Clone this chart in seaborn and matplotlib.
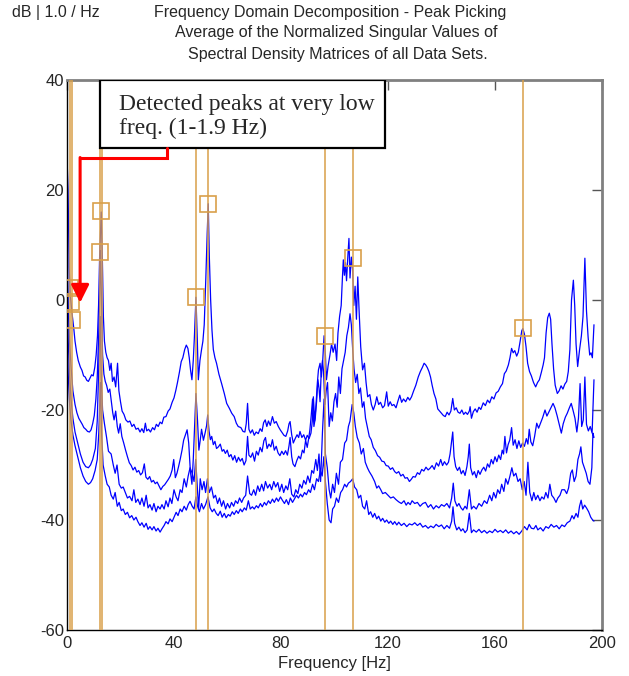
import numpy as np
import pandas as pd
import matplotlib
matplotlib.use('Agg')
import matplotlib.pyplot as plt
from matplotlib.patches import Rectangle
import seaborn as sns

sns.set_style('white')
plt.rcParams['font.family'] = ['Liberation Sans', 'DejaVu Sans']
plt.rcParams['axes.unicode_minus'] = False

# singular value curves, (frequency Hz, dB)
sv1 = [(0.0, 26), (0.4, 20), (0.8, 6), (1.2, 1), (1.9, -2.5), (2.5, -5), (3.0, -7.5), (3.6, -9.5), (4.2, -11),
       (5.0, -12.2), (5.6, -12.8), (6.2, -13.8), (6.8, -14), (7.4, -14.6), (8.0, -14.8), (8.6, -14.2), (9.2, -13.6),
       (9.8, -13.8), (10.4, -12.2), (10.9, -10), (11.4, -6.5), (11.8, -1), (12.2, 8), (12.8, 16), (13.2, 8),
       (13.6, -3), (14.0, -7.5), (14.5, -9.5), (15.0, -10.5), (15.5, -11), (16.0, -12.8), (16.5, -11.5), (17.0, -14.8),
       (17.6, -14), (18.2, -15.8), (18.9, -11.5), (19.4, -16.5), (20.0, -18.5), (20.6, -20.2), (21.3, -20.8),
       (22.0, -21.8), (22.8, -22.2), (23.5, -22), (24.3, -23), (25.0, -22.6), (25.8, -23.5), (26.6, -23.3),
       (27.3, -24), (28.0, -23.4), (28.7, -24.1), (29.3, -22.4), (29.8, -23.8), (30.5, -23.5), (31.2, -24),
       (32.0, -23.2), (32.7, -23.6), (33.4, -22.6), (34.1, -23), (34.8, -22.2), (35.5, -22.5), (36.2, -21.3),
       (37.0, -21.2), (37.8, -20.2), (38.5, -19.8), (39.3, -18.6), (40.0, -17.8), (40.7, -16.4), (41.3, -15),
       (42.0, -13.2), (42.7, -11.2), (43.3, -10.5), (44.0, -9), (44.6, -8.2), (45.2, -8.8), (45.7, -10.5),
       (46.2, -12.8), (46.7, -14.5), (47.2, -11), (47.6, -7), (48.2, 0.5), (48.7, -7), (49.1, -14.5), (49.7, -11),
       (50.3, -9), (50.8, -7.5), (51.3, -4.5), (51.9, 4), (52.4, 12), (52.8, 17.5), (53.2, 8), (53.7, 0),
       (54.2, -5.5), (54.7, -9), (55.3, -10.5), (55.9, -11.5), (56.8, -13.5), (57.8, -15.2), (58.8, -17),
       (59.7, -18.8), (60.7, -19.7), (61.6, -20.6), (62.5, -21.2), (63.3, -22.4), (64.0, -23), (65.0, -23.2),
       (65.8, -23.9), (66.5, -24), (67.0, -22.5), (67.5, -18.8), (68.0, -23.5), (68.6, -24.2), (69.3, -23.6),
       (70.0, -24.6), (70.7, -24), (71.5, -24.3), (72.2, -23.4), (72.9, -23.9), (73.5, -22.3), (74.1, -21.8),
       (74.7, -23), (75.3, -22), (76.0, -22.8), (76.8, -21.2), (77.5, -22.4), (78.2, -22.1), (79.0, -23),
       (79.7, -23.6), (80.4, -24.1), (81.1, -24.6), (81.8, -24.8), (82.5, -23.8), (83.0, -22.5), (83.4, -22.1),
       (84.0, -24.5), (84.6, -26), (85.3, -25.2), (86.0, -24.5), (86.6, -25), (87.1, -23.9), (87.8, -25),
       (88.5, -24.5), (89.2, -25.5), (89.8, -24.6), (90.5, -25.2), (91.2, -24.2), (91.7, -22), (92.1, -17.6),
       (92.6, -22), (93.1, -19), (93.6, -15), (94.0, -12.7), (94.6, -11.5), (95.1, -14), (95.6, -11), (96.1, -6.5),
       (96.6, -10), (97.0, -14.5), (97.6, -12), (98.3, -10), (98.9, -8), (99.5, -9.5), (100.2, -8), (100.8, -11),
       (101.3, -6), (101.9, -3), (102.5, -1), (103.0, 4.5), (103.3, 7.3), (103.7, 4.5), (104.1, 6.8), (104.5, 3.5),
       (105.0, 8), (105.4, 11.2), (105.8, 4), (106.3, 7.8), (106.8, 5.5), (107.2, -1), (107.7, 2.5), (108.2, -3.5),
       (108.7, 4.2), (109.2, -2), (109.8, -8.5), (110.5, -12.7), (111.2, -11.5), (111.8, -15), (112.4, -17.6),
       (113.2, -17.2), (113.8, -19), (114.5, -20), (115.2, -19), (115.8, -17.6), (116.5, -19), (117.2, -18.6),
       (118.0, -19.6), (118.7, -19.2), (119.5, -16.7), (120.1, -19.3), (120.8, -18.5), (121.5, -19.2), (122.2, -19),
       (123.0, -19.6), (123.7, -18.4), (124.4, -17.3), (125.1, -18.6), (125.8, -18), (126.6, -18.5), (127.4, -17.7),
       (128.1, -18.2), (128.8, -17.6), (129.6, -16.5), (130.4, -15.5), (131.3, -14), (132.1, -13), (132.9, -12.2),
       (133.5, -11.5), (134.1, -11.8), (134.7, -12.3), (135.3, -13), (135.9, -14), (136.5, -15.5), (137.2, -17),
       (137.9, -18), (138.6, -19.8), (139.3, -20.2), (140.0, -20.6), (140.7, -21), (141.4, -21.2), (142.1, -20.4),
       (142.8, -20.9), (143.5, -20.2), (144.2, -17.9), (144.8, -20), (145.5, -19.6), (146.2, -20.4), (146.9, -20.6),
       (147.6, -20), (148.3, -20.8), (149.0, -20.4), (149.7, -20.8), (150.4, -20.2), (150.7, -19.4), (151.2, -21.5),
       (151.9, -20.3), (152.6, -19.8), (153.3, -20.4), (154.0, -19.5), (154.7, -19.9), (155.6, -18.7), (156.4, -19.2),
       (157.2, -18.2), (158.0, -18.7), (158.8, -17.6), (159.6, -18), (160.4, -16.9), (161.2, -16.6), (162.0, -15.8),
       (162.8, -15.2), (163.5, -13.4), (164.2, -12.9), (165.0, -11.8), (165.6, -10.5), (166.2, -8.8), (166.8, -9.6),
       (167.4, -9.2), (168.1, -10.2), (168.7, -9.5), (169.4, -7.5), (170.0, -5.6), (170.4, -5.2), (171.0, -6.2),
       (171.6, -8.5), (172.2, -11.5), (172.9, -13), (173.6, -13.8), (174.4, -15), (175.2, -15.8), (175.9, -15),
       (176.6, -14.5), (177.3, -13.2), (178.0, -11.8), (178.5, -10.5), (179.1, -6), (179.7, -3.2), (180.3, -2.4),
       (180.8, -3.5), (181.3, -8), (181.9, -12.5), (182.5, -15.5), (183.3, -17), (184.0, -16.5), (184.7, -15.6),
       (185.4, -16.2), (186.1, -15.3), (186.8, -14.8), (187.4, -13), (188.0, -9), (188.6, 0), (189.3, 3.6),
       (189.8, -1), (190.3, -8), (190.9, -12.1), (191.6, -9.1), (192.3, -6.5), (192.9, -3), (193.6, 7.6),
       (194.2, -2), (194.8, -6.7), (195.4, -10), (195.9, -9.6), (196.4, -10.5), (197.0, -4.5)]

sv2 = [(0.0, 12), (0.5, -2), (1.0, -8), (1.5, -12), (2.2, -16.5), (3.0, -19), (3.7, -20.5), (4.4, -21.5), (5.0, -22),
       (5.7, -22.6), (6.3, -23.2), (7.0, -23.5), (7.7, -23.9), (8.4, -24), (9.0, -23.6), (9.6, -22.5), (10.2, -21),
       (10.8, -18), (11.3, -14), (11.8, -7), (12.1, -2), (12.5, 9), (12.9, 0), (13.3, -10), (13.8, -13.5),
       (14.3, -14.8), (14.8, -15.5), (15.4, -16.8), (16.0, -16.2), (16.6, -18.5), (17.1, -20.5), (17.6, -21.8),
       (18.2, -20.2), (18.8, -23), (19.3, -24.2), (19.9, -22.5), (20.5, -24.8), (21.2, -26), (21.9, -27.3),
       (22.6, -28.5), (23.3, -29.6), (24.0, -30.1), (24.7, -30.9), (25.4, -30.4), (26.1, -31.3), (26.8, -31),
       (27.5, -31.8), (28.2, -31.4), (28.9, -29.8), (29.5, -32.2), (30.2, -32.6), (30.9, -32.1), (31.6, -33.1),
       (32.3, -32.8), (33.0, -33.4), (33.7, -33.1), (34.4, -33.8), (35.1, -34.5), (35.8, -33.9), (36.5, -33.6),
       (37.2, -33.1), (37.9, -32.6), (38.6, -32), (39.3, -30.9), (39.9, -29), (40.5, -32.3), (41.1, -31.5),
       (41.7, -30.3), (42.3, -29), (43.0, -27.3), (43.6, -25.5), (44.3, -24.5), (44.9, -23.6), (45.5, -26),
       (46.1, -31), (46.7, -33.5), (47.2, -29), (47.7, -23), (48.2, -17), (48.8, -22), (49.3, -27.3), (49.8, -25.5),
       (50.3, -23.5), (51.0, -25.5), (51.7, -24), (52.2, -22.8), (52.6, -20.9), (53.1, -23.8), (53.6, -25.4),
       (54.1, -24.8), (54.7, -26.3), (55.3, -25.7), (55.9, -27), (56.6, -26.7), (57.3, -26.2), (58.0, -27.5),
       (58.6, -27.2), (59.2, -27.9), (59.9, -27.3), (60.6, -28.5), (61.3, -28.1), (62.0, -29.1), (62.7, -28.3),
       (63.4, -29.5), (64.1, -28.6), (64.8, -29.3), (65.5, -28.8), (66.2, -30), (66.9, -29.2), (67.5, -24.8),
       (68.0, -28.2), (68.7, -28.6), (69.4, -27.8), (70.1, -29.3), (70.8, -27.5), (71.5, -28.2), (72.2, -26.8),
       (72.9, -27.6), (73.6, -25.6), (74.2, -25), (74.8, -27), (75.5, -26.2), (76.2, -26.7), (76.8, -25.4),
       (77.5, -27.3), (78.2, -26.6), (78.9, -27.8), (79.6, -28.3), (80.3, -27.5), (81.0, -28.1), (81.7, -27.4),
       (82.4, -28.2), (83.0, -26.5), (83.4, -25), (84.0, -28.5), (84.5, -29.8), (85.2, -30.3), (85.9, -29.2),
       (86.6, -28.4), (87.3, -28.9), (88.0, -27.3), (88.6, -27.8), (89.2, -25.5), (89.8, -26.8), (90.4, -25),
       (90.8, -23.6), (91.3, -21), (91.8, -18), (92.3, -23), (92.8, -21.5), (93.3, -18.5), (93.8, -14.5),
       (94.2, -16), (94.6, -18.5), (95.0, -13.5), (95.5, -11), (95.9, -13), (96.4, -19), (96.9, -16.5), (97.4, -15),
       (98.0, -23), (98.6, -20.5), (99.2, -22), (99.8, -18.5), (100.4, -17), (101.0, -19.5), (101.6, -14),
       (102.2, -17), (102.8, -12.5), (103.4, -11), (104.0, -9.5), (104.6, -6.5), (105.2, -5), (105.8, -2.5),
       (106.3, -4.5), (106.8, -9), (107.3, -12.5), (107.9, -15), (108.5, -13.5), (109.1, -17), (109.7, -16),
       (110.4, -19.5), (111.0, -18.5), (111.6, -21.5), (112.3, -23.2), (113.0, -24.8), (113.7, -25.4), (114.5, -26.8),
       (115.3, -27.4), (116.1, -28.3), (116.9, -28.6), (117.7, -29.3), (118.5, -29.4), (119.3, -30.1), (120.1, -30.2),
       (120.9, -30.8), (121.7, -30.5), (122.5, -31.2), (123.2, -31.5), (124.0, -31.2), (124.8, -32), (125.6, -31.7),
       (126.4, -32.4), (127.2, -32.3), (128.0, -33), (128.7, -32.6), (129.4, -32.1), (130.2, -32.2), (131.0, -31.4),
       (131.8, -31.7), (132.6, -30.8), (133.4, -31.1), (134.2, -30.4), (135.0, -30.9), (135.7, -30.6), (136.5, -30.1),
       (137.3, -30.8), (138.1, -29.6), (138.9, -30.2), (139.7, -29), (140.4, -30.1), (141.1, -29.4), (141.9, -30),
       (142.6, -29.5), (143.2, -28), (143.7, -26), (144.2, -24), (144.7, -28.5), (145.3, -30.3), (146.0, -31),
       (146.7, -30.4), (147.4, -31.6), (148.1, -31), (148.8, -31.9), (149.5, -30.3), (150.0, -28.5), (150.4, -26.2),
       (150.9, -30.5), (151.6, -31.8), (152.3, -31.2), (153.0, -32.3), (153.7, -31), (154.4, -31.7), (155.1, -30.9),
       (155.8, -30.4), (156.5, -31.1), (157.2, -29.8), (157.9, -30.4), (158.6, -29), (159.3, -29.8), (160.0, -28.5),
       (160.7, -29.4), (161.4, -28.2), (162.1, -29), (162.7, -27.3), (163.2, -28), (163.7, -24.8), (164.3, -27.8),
       (164.9, -26.3), (165.5, -25.5), (166.2, -23.2), (166.8, -26.4), (167.5, -25.4), (168.2, -27), (168.9, -25.6),
       (169.6, -26.8), (170.3, -26), (171.0, -26.6), (171.7, -25.2), (172.3, -26.2), (172.8, -23.5), (173.4, -25.8),
       (174.1, -26.5), (174.8, -24.8), (175.6, -22.4), (176.3, -23.3), (177.0, -22.4), (177.8, -21.4), (178.7, -20),
       (179.4, -21.1), (180.1, -20.4), (180.9, -19.6), (181.7, -18.8), (182.4, -19.6), (183.2, -21), (184.0, -22.6),
       (184.8, -24.2), (185.5, -22.5), (186.3, -21.3), (187.0, -20.6), (187.8, -19.6), (188.5, -18.8), (189.2, -20.1),
       (189.9, -21.5), (190.6, -24), (191.2, -21.5), (191.8, -15.2), (192.4, -23), (193.0, -21.8), (193.6, -14),
       (194.2, -22.6), (194.9, -23.8), (195.6, -23), (196.3, -24.2), (197.0, -14.5)]

sv3 = [(0.0, 0), (0.5, -8), (1.0, -14), (1.5, -18), (2.2, -21.5), (3.0, -24), (4.0, -26), (5.0, -28), (6.0, -29.5),
       (7.0, -30.3), (8.0, -30.5), (8.8, -30), (9.6, -29), (10.6, -27), (11.3, -22), (11.9, -12), (12.4, -3),
       (12.8, -14), (13.3, -20), (14.0, -22.5), (14.8, -25), (15.5, -27.5), (16.5, -28), (17.3, -30), (18.0, -31.5),
       (18.7, -30), (19.5, -33.5), (20.3, -34.2), (21.0, -34), (21.8, -35), (22.6, -36), (23.4, -35.7), (24.3, -36.5),
       (25.0, -34.5), (25.7, -36.8), (26.5, -36.2), (27.3, -37.2), (28.0, -36), (28.8, -37.5), (29.6, -35.5),
       (30.3, -37.8), (31.0, -37.2), (31.8, -38.2), (32.5, -37), (33.3, -38.5), (34.0, -37.5), (34.8, -38),
       (35.5, -37.2), (36.3, -38), (37.0, -36.5), (37.8, -37.6), (38.5, -36), (39.2, -37), (40.0, -34.5),
       (40.8, -35.8), (41.5, -36.5), (42.3, -34.5), (43.0, -35), (43.8, -32.5), (44.6, -34), (45.3, -32), (46.0, -30.5),
       (46.8, -31.5), (47.5, -33), (48.1, -29), (48.6, -33), (49.2, -38), (49.8, -32.5), (50.5, -34.5), (51.2, -33),
       (51.8, -35), (52.5, -32.5), (53.2, -35), (54.0, -34), (54.8, -36), (55.5, -35.5), (56.3, -37), (57.0, -36),
       (57.8, -37.5), (58.5, -36.5), (59.3, -38), (60.0, -37), (60.8, -37.8), (61.5, -36.8), (62.3, -37.5),
       (63.0, -36.5), (63.8, -37), (64.5, -36), (65.3, -36.8), (66.0, -36), (66.8, -35.5), (67.5, -32), (68.3, -35.2),
       (69.0, -35.5), (69.8, -34.5), (70.5, -35.5), (71.3, -33.8), (72.0, -34.8), (72.8, -33.5), (73.5, -34.7),
       (74.2, -33), (75.0, -34.2), (75.8, -33.5), (76.5, -34.5), (77.3, -33), (78.0, -34), (78.8, -33.2),
       (79.5, -34.8), (80.3, -33.5), (81.0, -35), (81.8, -33.8), (82.5, -34.5), (83.3, -32.5), (84.0, -35.3),
       (84.8, -35.8), (85.5, -34.5), (86.3, -35.2), (87.0, -33.5), (87.8, -34.2), (88.5, -32.8), (89.3, -33.5),
       (90.0, -32), (90.8, -33.2), (91.5, -31), (92.2, -31.5), (93.0, -29), (93.6, -31), (94.2, -28), (94.8, -33),
       (95.5, -24), (96.1, -18), (96.6, -28), (97.3, -30.5), (98.0, -34.5), (98.6, -36), (99.3, -33.5), (100.0, -35),
       (100.7, -31.5), (101.5, -33.5), (102.2, -29.5), (103.0, -29), (103.8, -26), (104.5, -25.5), (105.2, -23),
       (105.8, -22), (106.6, -19), (107.2, -20.5), (107.8, -23), (108.5, -25), (109.3, -26), (110.0, -28),
       (110.8, -27), (111.5, -29.5), (112.3, -30.5), (113.0, -31.2), (114.0, -32), (115.0, -33), (115.8, -34.2),
       (116.5, -33.8), (117.3, -34.5), (118.0, -35.2), (119.0, -35), (120.0, -35.5), (121.0, -36), (122.0, -35.8),
       (123.0, -36.3), (124.0, -36.7), (125.0, -37), (126.0, -36.5), (126.8, -37.3), (127.5, -36.8), (128.3, -37.2),
       (129.0, -36.5), (130.0, -37), (131.0, -36.8), (132.0, -37.5), (133.0, -37), (134.0, -36.8), (135.0, -37.7),
       (136.0, -37.2), (137.0, -38), (138.0, -37.4), (139.0, -37.8), (140.0, -37.2), (141.0, -37.5), (142.0, -37),
       (143.0, -37.8), (143.8, -36), (144.4, -33.3), (145.0, -36.5), (145.8, -37.5), (146.5, -37), (147.3, -37.8),
       (148.0, -38.2), (148.8, -37.5), (149.5, -38), (150.4, -34.5), (151.2, -38), (152.0, -37.5), (153.0, -38),
       (154.0, -37), (155.0, -37.5), (156.0, -36.5), (157.0, -37), (158.0, -35.5), (158.8, -36.5), (159.5, -35),
       (160.3, -36), (161.0, -34.5), (161.8, -35.2), (162.5, -33.5), (163.3, -34.8), (164.0, -32.5), (164.8, -33.5),
       (165.6, -32), (166.3, -30.5), (167.0, -32), (167.8, -31.5), (168.6, -33), (169.4, -32.5), (170.2, -34.5),
       (170.9, -33), (171.6, -35.5), (172.3, -29.5), (173.0, -35), (173.8, -36.5), (174.5, -35), (175.2, -36.3),
       (176.0, -35.5), (176.8, -36.5), (177.5, -35.8), (178.3, -36.2), (179.0, -35), (179.8, -36), (180.5, -33.5),
       (181.2, -35.5), (182.0, -36), (182.8, -36.8), (183.5, -36), (184.3, -35.5), (185.0, -34.5), (186.0, -34.5),
       (186.8, -35.2), (187.5, -34.2), (188.3, -31.5), (188.9, -30.9), (189.6, -33), (190.3, -32), (191.0, -29),
       (191.6, -28), (192.1, -26.7), (192.7, -29.5), (193.4, -30.5), (194.1, -31.5), (194.8, -33), (195.5, -33.5),
       (196.2, -30.5), (196.6, -24.2), (197.0, -25)]

sv4 = [(0.0, -8), (0.5, -14), (1.0, -19), (1.5, -22), (2.2, -24.5), (3.0, -26.5), (4.0, -28.5), (5.0, -30.5),
       (6.0, -32), (7.0, -33), (8.0, -33.5), (8.8, -33.2), (9.6, -32.5), (10.5, -31), (11.3, -29), (11.9, -24),
       (12.5, -15), (12.9, -24), (13.5, -30), (14.3, -32), (15.0, -33.5), (15.8, -34), (16.5, -35.5), (17.3, -36.2),
       (18.0, -35), (18.8, -37.5), (19.5, -36.8), (20.3, -38.3), (21.0, -38), (21.8, -39), (22.6, -38.6),
       (23.4, -39.6), (24.2, -39.2), (25.0, -40), (25.8, -39.5), (26.5, -40.3), (27.3, -41), (28.0, -40.5),
       (28.8, -41.3), (29.6, -40.6), (30.3, -41.7), (31.0, -41.2), (31.8, -41.8), (32.5, -41.2), (33.3, -42),
       (34.0, -41.5), (34.8, -42.2), (35.5, -41.6), (36.3, -41), (37.0, -40.3), (37.8, -40.7), (38.5, -39.8),
       (39.3, -40.3), (40.0, -39.5), (40.8, -38.6), (41.5, -39.2), (42.3, -38), (43.0, -38.5), (43.8, -37.5),
       (44.6, -38.2), (45.3, -37.2), (46.0, -36.6), (46.8, -37.5), (47.5, -38), (48.2, -35.8), (48.8, -37.5),
       (49.5, -38.5), (50.3, -37), (51.0, -38), (51.8, -37.2), (52.7, -35.8), (53.5, -37.8), (54.3, -38.5),
       (55.0, -38), (55.8, -38.8), (56.5, -39.2), (57.3, -38.4), (58.0, -39.5), (58.8, -38.8), (59.5, -39.6),
       (60.3, -39), (61.0, -39.3), (61.8, -38.5), (62.5, -39), (63.3, -38.3), (64.0, -38.8), (64.8, -38),
       (65.5, -38.5), (66.3, -37.8), (67.0, -38.2), (67.8, -36.5), (68.5, -38), (69.3, -37.6), (70.0, -38),
       (70.8, -37.4), (71.5, -37.8), (72.3, -37), (73.0, -37.6), (73.8, -36.8), (74.5, -37.3), (75.3, -36.5),
       (76.0, -37), (76.8, -36.2), (77.5, -36.8), (78.3, -36), (79.0, -36.6), (79.8, -35.8), (80.5, -36.4),
       (81.3, -37), (82.0, -36.3), (82.8, -37.2), (83.5, -36), (84.3, -36.8), (85.0, -36.2), (85.8, -35.5),
       (86.5, -36), (87.3, -35.3), (88.0, -35.8), (88.8, -35), (89.5, -35.4), (90.3, -34.5), (91.0, -35),
       (91.8, -33.5), (92.5, -34.5), (93.3, -32.5), (94.0, -33), (94.7, -31), (95.4, -32), (96.0, -28.5),
       (96.6, -33), (97.3, -37), (98.0, -40), (98.7, -40.5), (99.3, -38), (100.0, -37.5), (100.7, -36),
       (101.5, -36.8), (102.3, -35), (103.0, -34.5), (103.8, -33.5), (104.5, -34), (105.2, -33.3), (106.0, -33),
       (106.8, -32.5), (107.5, -34), (108.3, -34.5), (109.0, -36), (109.8, -35.5), (110.5, -37.5), (111.3, -38),
       (112.0, -36.5), (112.8, -39), (113.5, -38.5), (114.3, -39.5), (115.0, -38.8), (115.8, -39.8), (116.5, -39.3),
       (117.3, -40.2), (118.0, -39.7), (118.8, -40.4), (119.5, -40), (120.3, -40.6), (121.0, -40.2), (121.8, -40.8),
       (122.5, -40.3), (123.3, -40.9), (124.0, -40.4), (125.0, -41), (126.0, -40.6), (127.0, -41.2), (128.0, -40.7),
       (129.0, -40.9), (130.0, -40.5), (131.0, -41), (132.0, -40.6), (133.0, -41.3), (134.0, -41), (135.0, -41.5),
       (136.0, -41.1), (137.0, -41.4), (138.0, -40.8), (139.0, -41.2), (140.0, -40.9), (141.0, -41.6), (142.0, -41),
       (143.0, -41.5), (143.8, -40.2), (144.3, -37.6), (144.9, -40.6), (145.7, -41.8), (146.5, -41.3), (147.3, -42),
       (148.0, -41.6), (148.8, -42.3), (149.6, -41.8), (150.4, -38.8), (151.2, -42.3), (152.0, -41.8), (153.0, -42.2),
       (154.0, -41.7), (155.0, -42.3), (156.0, -41.9), (157.0, -42.4), (158.0, -42), (159.0, -42.3), (160.0, -41.7),
       (161.0, -42.2), (162.0, -41.9), (163.0, -42.3), (164.0, -41.8), (165.0, -42.4), (166.0, -42), (167.0, -42.5),
       (168.0, -42.1), (169.0, -42.6), (170.0, -42), (171.0, -41.2), (172.0, -41.8), (172.8, -40.8), (173.6, -41.5),
       (174.5, -41.6), (175.3, -41), (176.0, -41.8), (177.0, -41.4), (178.0, -42), (179.0, -41.2), (180.0, -41.5),
       (181.0, -40.8), (182.0, -41.3), (183.0, -41), (184.0, -41.6), (185.0, -40.9), (186.0, -41.2), (187.0, -40.5),
       (188.0, -40.2), (188.8, -39.2), (189.5, -39.8), (190.3, -38.8), (191.0, -39.5), (191.6, -37.5), (192.2, -36.4),
       (192.8, -38), (193.5, -37.3), (194.2, -37.8), (195.0, -38.5), (195.8, -39.5), (196.5, -40), (197.0, -40.2)]

# picked peaks
peak_lines = [1.0, 1.9, 12.4, 12.9, 48.3, 52.8, 96.3, 106.8, 170.3]
pick_f = [1.0, 1.45, 1.9, 12.4, 12.8, 48.3, 52.8, 96.3, 106.8, 170.3]
pick_db = [2.2, -0.4, -3.6, 8.7, 16.2, 0.5, 17.5, -6.5, 7.6, -5.0]

x_ticks = [0, 40, 80, 120, 160, 200]
y_ticks = [-60, -40, -20, 0, 20, 40]

rows = []
for name, pts in [('sv1', sv1), ('sv2', sv2), ('sv3', sv3), ('sv4', sv4)]:
    for f, d in pts:
        rows.append((name, f, d))
df = pd.DataFrame(rows, columns=['sv', 'freq', 'db'])

orange = '#D9A04A'

fig = plt.figure(figsize=(6.29, 6.76), dpi=100)
ax = fig.add_axes([67 / 629, 1 - 630 / 676, 535 / 629, 550 / 676])

sns.lineplot(data=df, x='freq', y='db', units='sv', estimator=None, sort=False,
             color='blue', lw=0.9, ax=ax, legend=False)

for f in peak_lines:
    ax.axvline(f, color=orange, lw=1.3, alpha=0.85, zorder=3)
ax.plot(pick_f, pick_db, ls='none', marker='s', ms=11.5, mfc='none', mec=orange, mew=1.2, zorder=4)

ax.set_xlim(0, 200)
ax.set_ylim(-60, 40)
ax.set_xticks(x_ticks)
ax.set_yticks(y_ticks)
ax.tick_params(direction='in', length=7, width=1, color='#555555', labelsize=12,
               top=True, right=True, pad=2)
ax.tick_params(axis='x', pad=4)
ax.set_xlabel('Frequency [Hz]', fontsize=12, labelpad=4)
ax.set_ylabel('')
for s in ['left', 'bottom']:
    ax.spines[s].set_color('black')
    ax.spines[s].set_linewidth(1)
for s in ['top', 'right']:
    ax.spines[s].set_color('#808080')
    ax.spines[s].set_linewidth(2)

# annotation box + red arrow
ax.add_patch(Rectangle((12.3, 27.6), 106.6, 12.4, fc='white', ec='black', lw=1.6, zorder=6))
ax.text(19.5, 35.6, 'Detected peaks at very low', fontsize=17, family='Liberation Serif', va='center', zorder=7)
ax.text(19.5, 31.2, 'freq. (1-1.9 Hz)', fontsize=17, family='Liberation Serif', va='center', zorder=7)
ax.plot([37.3, 37.3, 4.9], [27.6, 25.8, 25.8], color='red', lw=2.2, zorder=6, solid_joinstyle='miter')
ax.annotate('', xy=(4.9, -0.5), xytext=(4.9, 25.9),
            arrowprops=dict(arrowstyle='-|>,head_length=0.6,head_width=0.3', color='red', lw=2.2,
                            mutation_scale=18, shrinkA=0, shrinkB=0), zorder=6)

fig.text(12 / 629, 1 - 13 / 676, 'dB | 1.0 / Hz', fontsize=11.5, va='center', ha='left')
fig.text(330 / 629, 1 - 13 / 676, 'Frequency Domain Decomposition - Peak Picking', fontsize=11.5, va='center', ha='center')
fig.text(336 / 629, 1 - 33 / 676, 'Average of the Normalized Singular Values of', fontsize=11.5, va='center', ha='center')
fig.text(338 / 629, 1 - 55 / 676, 'Spectral Density Matrices of all Data Sets.', fontsize=11.5, va='center', ha='center')

fig.savefig('out.png', dpi=100)
